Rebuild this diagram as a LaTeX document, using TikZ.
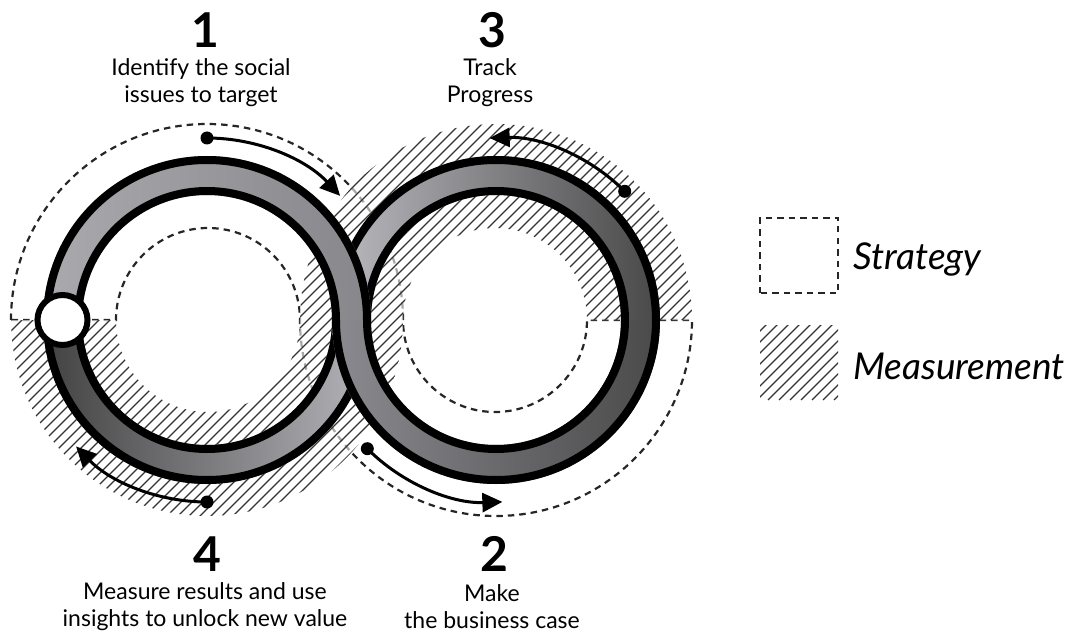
\documentclass[tikz,border=0pt]{standalone}
\usepackage{fontspec}
\setmainfont{Lato}
\usetikzlibrary{arrows.meta}

\definecolor{stratA}{HTML}{A9A9AE}
\definecolor{stratB}{HTML}{86868B}
\definecolor{stratC}{HTML}{8A8A90}
\definecolor{stratD}{HTML}{4A4A4A}
\definecolor{measA}{HTML}{BABAC0}
\definecolor{measB}{HTML}{484848}
\definecolor{measC}{HTML}{424242}
\definecolor{measD}{HTML}{B4B4BA}

\tikzset{
  ringline/.style={line width=8pt,black},
  strategyline/.style={line width=2.2pt,dash pattern=on 6.5pt off 5pt,black!85},
  hatchline/.style={line width=1.1pt,black!80},
  stepnum/.style={font=\bfseries\fontsize{48}{48}\selectfont},
  steptext/.style={font=\fontsize{23}{27}\selectfont,align=center},
  legendtext/.style={font=\itshape\fontsize{37}{37}\selectfont,anchor=west},
  looparrow/.style={line width=3pt,-{Triangle[length=20pt,width=19pt]}},
}

% one half of a ring: #1 centre x, #2/#3 angles, #4 left colour, #5 right colour
\newcommand\halfband[5]{%
  \shade[left color=#4,right color=#5] (#1,313) ++(#2:164)
    arc[start angle=#2,end angle=#3,radius=164] -- ++(#3:-39)
    arc[start angle=#3,end angle=#2,radius=125] -- cycle;
  \draw[ringline] (#1,313) ++(#2:160) arc[start angle=#2,end angle=#3,radius=160];
  \draw[ringline] (#1,313) ++(#2:129) arc[start angle=#2,end angle=#3,radius=129];
}

\begin{document}
\begin{tikzpicture}[x=1pt,y=1pt]
\useasboundingbox (0,0) rectangle (1073,633);
% strategy band: upper half round the left ring, lower half round the right ring
\draw[strategyline] (11,313) arc[start angle=180,end angle=0,radius=196]
  arc[start angle=180,end angle=360,radius=92] -- (692,313)
  arc[start angle=360,end angle=180,radius=196]
  arc[start angle=0,end angle=180,radius=92] -- cycle;
% measurement band: upper half round the right ring, lower half round the left ring
\begin{scope}
  \clip (692,313) arc[start angle=0,end angle=180,radius=196]
    arc[start angle=360,end angle=180,radius=92] -- (11,313)
    arc[start angle=180,end angle=360,radius=196]
    arc[start angle=180,end angle=0,radius=92] -- cycle;
  \fill[white,opacity=0.6] (0,0) rectangle (1073,633);
  \foreach \k in {-500,-489,...,590}
    \draw[hatchline] (\k,0) -- ++(640,640);
\end{scope}
% the loop: measurement strand below, strategy strand on top
\halfband{496}{0}{180}{measA}{measB}
\halfband{207}{180}{360}{measC}{measD}
\halfband{207}{0}{180}{stratA}{stratB}
\halfband{496}{180}{360}{stratC}{stratD}
% direction arrows
\draw[looparrow] (207,313) ++(90:182) arc[start angle=90,end angle=43,radius=182];
\fill (207,313) ++(90:182) circle (6.5);
\draw[looparrow] (496,313) ++(225:182) arc[start angle=225,end angle=272,radius=182];
\fill (496,313) ++(225:182) circle (6.5);
\draw[looparrow] (496,313) ++(45:182) arc[start angle=45,end angle=92,radius=182];
\fill (496,313) ++(45:182) circle (6.5);
\draw[looparrow] (207,313) ++(270:182) arc[start angle=270,end angle=224,radius=182];
\fill (207,313) ++(270:182) circle (6.5);
% start point
\draw[line width=6pt,fill=white] (62.5,313) circle (25);
% steps
\node[stepnum] (num1) at (205,603) {1};
\node[steptext] (txt1) at (201,550) {Identify the social\\issues to target};
\node[stepnum] (num3) at (492,603) {3};
\node[steptext] (txt3) at (490,550) {Track\\Progress};
\node[stepnum] (num4) at (207,79) {4};
\node[steptext] (txt4) at (205,26) {Measure results and use\\insights to unlock new value};
\node[stepnum] (num2) at (494,79) {2};
\node[steptext] (txt2) at (492,26) {Make\\the business case};
% legend
\draw[strategyline] (760,340) rectangle (838,415);
\begin{scope}
  \clip (760,233) rectangle (838,308);
  \foreach \k in {-80,-69,...,80}
    \draw[hatchline] (760+\k,233) -- ++(90,90);
\end{scope}
\node[legendtext] (strategy) at (850,374) {Strategy};
\node[legendtext] (measure) at (850,267) {Measurement};
\end{tikzpicture}
\end{document}
